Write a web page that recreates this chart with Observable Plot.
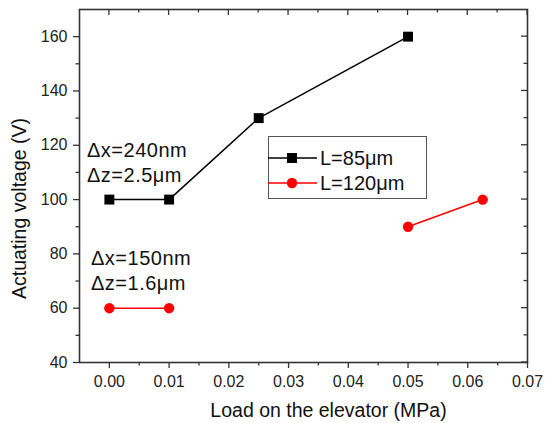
<!DOCTYPE html>
<html>
<head>
<meta charset="utf-8">
<script src="https://cdn.jsdelivr.net/npm/d3@7"></script>
<script src="https://cdn.jsdelivr.net/npm/@observablehq/plot@0.6"></script>
<style>
  html, body { margin: 0; padding: 0; background: #fff; }
  #chart { position: relative; width: 546px; height: 423px; font-family: "Liberation Sans", Arial, sans-serif; }
</style>
</head>
<body>
<div id="chart"></div>
<script>
// ---- data ----
const blackX = [0, 0.01, 0.025, 0.05];
const blackY = [100, 100, 130, 160];
const redX = [0, 0.01, 0.05, 0.0625];
const redY = [60, 60, 90, 100];
const redSegment = [1, 1, 2, 2];
const seriesNames = ["L=85μm", "L=120μm"];
const seriesColors = ["#000000", "#ff0000"];
const seriesSymbols = ["square", "circle"];
const xTicks = [0, 0.01, 0.02, 0.03, 0.04, 0.05, 0.06, 0.07];
const xMinor = [0.005, 0.015, 0.025, 0.035, 0.045, 0.055, 0.065];
const yTicks = [40, 60, 80, 100, 120, 140, 160];
const yMinor = [50, 70, 90, 110, 130, 150];
const annotationsTop = ["Δx=240nm", "Δz=2.5μm"];
const annotationsBottom = ["Δx=150nm", "Δz=1.6μm"];
const xLabel = "Load on the elevator (MPa)";
const yLabel = "Actuating voltage (V)";

const black = blackX.map((x, i) => ({x, y: blackY[i]}));
const red = redX.map((x, i) => ({x, y: redY[i], seg: redSegment[i]}));

const font = "'Liberation Sans', Arial, sans-serif";
const axisColor = "#333";

const plot = Plot.plot({
  width: 546,
  height: 423,
  marginLeft: 79,
  marginRight: 19,
  marginTop: 9,
  marginBottom: 61,
  style: {fontFamily: font, background: "#fff", color: "#222"},
  x: {domain: [-0.005, 0.07]},
  y: {domain: [40, 170]},
  marks: [
    Plot.axisX({ticks: xTicks, tickSize: 6, tickPadding: 7, fontSize: 16, tickFormat: d3.format(".2f"), label: null, stroke: axisColor, strokeWidth: 1.3}),
    Plot.axisX({ticks: xMinor, tickSize: 3.5, tickFormat: () => "", label: null, stroke: axisColor, strokeWidth: 1.3}),
    Plot.axisY({ticks: yTicks, tickSize: 6, tickPadding: 6, fontSize: 16, label: null, stroke: axisColor, strokeWidth: 1.3}),
    Plot.axisY({ticks: yMinor, tickSize: 3.5, tickFormat: () => "", label: null, stroke: axisColor, strokeWidth: 1.3}),
    Plot.frame({stroke: axisColor, strokeWidth: 1.6}),
    Plot.line(black, {x: "x", y: "y", stroke: seriesColors[0], strokeWidth: 1.5}),
    Plot.line(red, {x: "x", y: "y", z: "seg", stroke: seriesColors[1], strokeWidth: 1.5}),
    Plot.dot(black, {x: "x", y: "y", symbol: seriesSymbols[0], r: 5.6, fill: seriesColors[0], stroke: "none"}),
    Plot.dot(red, {x: "x", y: "y", symbol: seriesSymbols[1], r: 5.2, fill: seriesColors[1], stroke: "none"}),
    Plot.text([xLabel], {text: d => d, frameAnchor: "bottom", textAnchor: "middle", lineAnchor: "middle", dx: 25, dy: 48, fontSize: 19.5, fill: "#111"}),
    Plot.text([yLabel], {text: d => d, frameAnchor: "left", textAnchor: "middle", lineAnchor: "middle", dx: -59.5, dy: 22.5, rotate: -90, fontSize: 19.5, fill: "#111"})
  ]
});
document.getElementById("chart").appendChild(plot);

const sx = plot.scale("x"), sy = plot.scale("y");
const svg = d3.select(plot);
const [x0, x1] = sx.range, [y0, y1] = sy.range; // y0 bottom, y1 top

// inward mirror ticks on top and right
const mirror = svg.append("g").attr("stroke", axisColor).attr("stroke-width", 1.3);
xTicks.forEach(t => mirror.append("line").attr("x1", sx.apply(t)).attr("x2", sx.apply(t)).attr("y1", y1).attr("y2", y1 + 6));
xMinor.forEach(t => mirror.append("line").attr("x1", sx.apply(t)).attr("x2", sx.apply(t)).attr("y1", y1).attr("y2", y1 + 3.5));
yTicks.forEach(t => mirror.append("line").attr("y1", sy.apply(t)).attr("y2", sy.apply(t)).attr("x1", x1).attr("x2", x1 - 6));
yMinor.forEach(t => mirror.append("line").attr("y1", sy.apply(t)).attr("y2", sy.apply(t)).attr("x1", x1).attr("x2", x1 - 3.5));

// annotations
const annot = svg.append("g").attr("font-family", font).attr("font-size", 20).attr("fill", "#111").attr("text-anchor", "start");
const annLines = [
  {t: annotationsTop[0], x: 87, y: 150},
  {t: annotationsTop[1], x: 87, y: 175},
  {t: annotationsBottom[0], x: 91, y: 258},
  {t: annotationsBottom[1], x: 91, y: 283}
];
annot.selectAll("text").data(annLines).join("text")
  .attr("x", d => d.x).attr("y", d => d.y).attr("dy", "0.35em").attr("letter-spacing", 0.5).text(d => d.t);

// legend
const leg = svg.append("g").attr("font-family", font).attr("text-anchor", "start");
leg.append("rect").attr("x", 268.5).attr("y", 136.5).attr("width", 158).attr("height", 62)
  .attr("fill", "#fff").attr("stroke", "#555").attr("stroke-width", 1);
seriesNames.forEach((name, i) => {
  const cy = 158 + i * 25;
  leg.append("line").attr("x1", 268).attr("x2", 317).attr("y1", cy).attr("y2", cy)
    .attr("stroke", seriesColors[i]).attr("stroke-width", 1.5);
  leg.append("path").attr("transform", `translate(292,${cy})`)
    .attr("d", d3.symbol(seriesSymbols[i] === "square" ? d3.symbolSquare : d3.symbolCircle, (i === 0 ? 5.6 * 5.6 : 5.2 * 5.2) * Math.PI)())
    .attr("fill", seriesColors[i]);
  leg.append("text").attr("x", 320).attr("y", cy).attr("dy", "0.35em")
    .attr("font-size", 20).attr("fill", "#111").text(name);
});
</script>
</body>
</html>
